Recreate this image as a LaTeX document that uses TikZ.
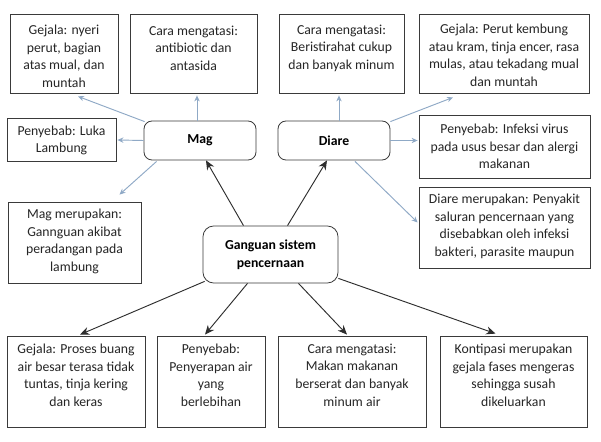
\documentclass[tikz,border=0pt]{standalone}
\usepackage{fontspec}
\setmainfont{Carlito}
\usetikzlibrary{arrows.meta,calc}
\definecolor{boxline}{HTML}{3A3A3A}
\definecolor{lightarrow}{HTML}{8FA9C6}
\definecolor{darkarrow}{HTML}{2E2E2E}
\tikzset{
  boxnode/.style={draw=boxline, line width=0.6pt, rectangle, inner sep=0pt},
  roundnode/.style={draw=boxline, line width=0.6pt, rectangle, rounded corners=6pt, inner sep=0pt},
  txt/.style={anchor=north, align=center, inner sep=0pt, font=\fontsize{10.3}{13.2}\selectfont, text=black!85},
  lightconn/.style={draw=lightarrow, line width=0.7pt, -{Stealth[length=4.5pt,width=4pt]}},
  darkconn/.style={draw=darkarrow, line width=0.7pt, -{Stealth[length=7pt,width=6pt]}}
}
\begin{document}
\begin{tikzpicture}[x=0.75pt,y=-0.75pt]
\useasboundingbox (0,0) rectangle (601,442);
\fill[white] (0,0) rectangle (601,442);

% top row boxes
\node[boxnode, minimum width=108*0.75pt, minimum height=79*0.75pt] (b1) at (64,53.5) {};
\node[boxnode, minimum width=127*0.75pt, minimum height=79*0.75pt] (b2) at (193.5,53.5) {};
\node[boxnode, minimum width=125*0.75pt, minimum height=79*0.75pt] (b3) at (341.5,53.5) {};
\node[boxnode, minimum width=170*0.75pt, minimum height=79*0.75pt] (b4) at (504,53.5) {};
\node[txt] (b1t) at ($(b1.north)+(0,11)$) {Gejala: nyeri\\perut, bagian\\atas mual, dan\\muntah};
\node[txt] (b2t) at ($(b2.north)+(0,12)$) {Cara mengatasi:\\antibiotic dan\\antasida};
\node[txt] (b3t) at ($(b3.north)+(0,11)$) {Cara mengatasi:\\Beristirahat cukup\\dan banyak minum};
\node[txt] (b4t) at ($(b4.north)+(0,10)$) {Gejala: Perut kembung\\atau kram, tinja encer, rasa\\mulas, atau tekadang mual\\dan muntah};

% middle
\node[roundnode, minimum width=112*0.75pt, minimum height=39*0.75pt, font=\fontsize{10.3}{13.2}\selectfont\bfseries] (mag) at (200,140.5) {Mag};
\node[roundnode, minimum width=112*0.75pt, minimum height=39*0.75pt, font=\fontsize{10.3}{13.2}\selectfont\bfseries] (diare) at (334,140.5) {Diare};
\node[boxnode, minimum width=109*0.75pt, minimum height=43*0.75pt] (luka) at (61.5,139.5) {};
\node[txt] (lukat) at ($(luka.north)+(0,8)$) {Penyebab: Luka\\Lambung};
\node[boxnode, minimum width=133*0.75pt, minimum height=81*0.75pt] (magdef) at (74.5,242.5) {};
\node[txt] (magdeft) at ($(magdef.north)+(0,7)$) {Mag merupakan:\\Gannguan akibat\\peradangan pada\\lambung};
\node[boxnode, minimum width=171*0.75pt, minimum height=63*0.75pt] (infeksi) at (504.5,146.5) {};
\node[txt] (infeksit) at ($(infeksi.north)+(0,9)$) {Penyebab: Infeksi virus\\pada usus besar dan alergi\\makanan};
\node[boxnode, minimum width=171*0.75pt, minimum height=81*0.75pt] (diaredef) at (504.5,227.5) {};
\node[txt] (diaredeft) at ($(diaredef.north)+(0,7)$) {Diare merupakan: Penyakit\\saluran pencernaan yang\\disebabkan oleh infeksi\\bakteri, parasite maupun};
\node[roundnode, rounded corners=8pt, minimum width=135*0.75pt, minimum height=57*0.75pt, align=center, font=\fontsize{10.3}{13.2}\selectfont\bfseries] (ganguan) at (270.5,254.5) {Ganguan sistem\\pencernaan};

% bottom row
\node[boxnode, minimum width=138*0.75pt, minimum height=91*0.75pt] (g2) at (76,381.5) {};
\node[boxnode, minimum width=108*0.75pt, minimum height=91*0.75pt] (p2) at (211,381.5) {};
\node[boxnode, minimum width=148*0.75pt, minimum height=91*0.75pt] (c2) at (352,381.5) {};
\node[boxnode, minimum width=147*0.75pt, minimum height=91*0.75pt] (k2) at (513.5,381.5) {};
\node[txt] (g2t) at ($(g2.north)+(0,8)$) {Gejala: Proses buang\\air besar terasa tidak\\tuntas, tinja kering\\dan keras};
\node[txt] (p2t) at ($(p2.north)+(0,8)$) {Penyebab:\\Penyerapan air\\yang\\berlebihan};
\node[txt] (c2t) at ($(c2.north)+(0,8)$) {Cara mengatasi:\\Makan makanan\\berserat dan banyak\\minum air};
\node[txt] (k2t) at ($(k2.north)+(0,8)$) {Kontipasi merupakan\\gejala fases mengeras\\sehingga susah\\dikeluarkan};

% light connectors
\draw[lightconn] ($(mag.north west)+(1,1)$) -- ($(b1.south)+(14,3)$);
\draw[lightconn] ($(mag.north)+(-3,0)$) -- ($(b2.south)+(3.5,2)$);
\draw[lightconn] (mag.west) -- ($(luka.east)+(1,0.5)$);
\draw[lightconn] ($(mag.south west)+(13,1)$) -- ($(magdef.north)+(45,-7)$);
\draw[lightconn] ($(diare.north)+(5,0)$) -- ($(b3.south)+(-2.5,2)$);
\draw[lightconn] ($(diare.north east)+(0,1)$) -- ($(b4.south)+(-51,4)$);
\draw[lightconn] (diare.east) -- ($(infeksi.west)+(-1,-6)$);
\draw[lightconn] ($(diare.south)+(21,1)$) -- ($(diaredef.west)+(-1,-5)$);

% dark connectors
\draw[darkconn] ($(ganguan.north)+(-27,0)$) -- ($(mag.south)+(6,0)$);
\draw[darkconn] ($(ganguan.north)+(17,0)$) -- ($(diare.south)+(-7,0)$);
\draw[darkconn] ($(ganguan.south west)+(2,-2)$) -- ($(g2.north)+(4,-1)$);
\draw[darkconn] ($(ganguan.south)+(-23,0)$) -- ($(p2.north)+(-6,-1)$);
\draw[darkconn] ($(ganguan.south)+(28,0)$) -- ($(c2.north)+(-5,-1)$);
\draw[darkconn] ($(ganguan.south east)+(0,-5)$) -- ($(k2.north)+(-18,-2)$);
\end{tikzpicture}
\end{document}
